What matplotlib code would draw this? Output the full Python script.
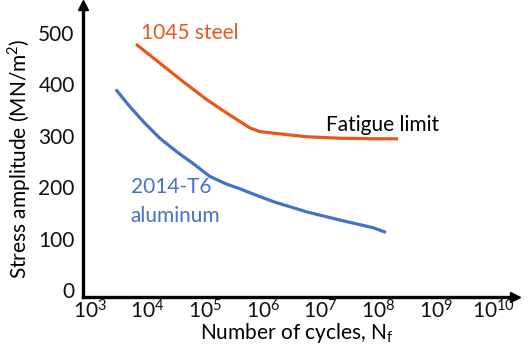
import numpy as np
import matplotlib.pyplot as plt

plt.rcParams['font.family'] = ['Lato', 'DejaVu Sans']
plt.rcParams['mathtext.fontset'] = 'custom'
plt.rcParams['mathtext.rm'] = 'Lato'

# values (log10 of cycles, stress in MN/m2)
steel_logn = [3.80, 4.215, 4.62, 5.03, 5.43, 5.78, 5.95, 6.18, 6.76, 7.34, 7.92, 8.35]
steel_s = [478, 441, 405, 370, 340, 315, 308, 305, 298, 295, 294, 294]
alu_logn = [3.45, 3.69, 3.93, 4.215, 4.505, 4.79, 5.08, 5.37, 5.60, 5.78, 6.18, 6.76,
            7.34, 7.92, 8.14]
alu_s = [390, 357, 327, 295, 269, 246, 221, 206, 197, 189, 172, 152, 136, 121, 112]
x_exp = [3, 4, 5, 6, 7, 8, 9, 10]
y_ticks = [0, 100, 200, 300, 400, 500]

orange = '#E8571C'
blue = '#4472C4'
fs = 15

fig = plt.figure(figsize=(5.32, 3.6), dpi=100)
ax = fig.add_axes([0.156, 0.175, 0.812, 0.811])

ax.plot(10.0 ** np.array(steel_logn), steel_s, color=orange, lw=2.3,
        solid_capstyle='butt', solid_joinstyle='round')
ax.plot(10.0 ** np.array(alu_logn), alu_s, color=blue, lw=2.3,
        solid_capstyle='butt', solid_joinstyle='round')

ax.set_xscale('log')
ax.set_xlim(10 ** 2.88, 10 ** 10.38)
ax.set_ylim(-13.6, 554)
ax.set_xticks([10.0 ** e for e in x_exp])
ax.set_xticklabels([r'$\mathregular{10^{%d}}$' % e for e in x_exp])
ax.minorticks_off()
ax.set_yticks(y_ticks)
ax.tick_params(length=0, labelsize=fs, colors='#111111')
ax.tick_params(axis='x', pad=2)
ax.tick_params(axis='y', pad=6)

for s in ['top', 'right']:
    ax.spines[s].set_visible(False)
for s in ['left', 'bottom']:
    ax.spines[s].set_linewidth(2.4)
    ax.spines[s].set_color('black')
ax.plot(1, 0, '>k', ms=7, transform=ax.transAxes, clip_on=False)
ax.plot(0, 1, '^k', ms=7, transform=ax.transAxes, clip_on=False)

ax.text(10 ** 3.885, 500, '1045 steel', color=orange, fontsize=fs, va='center')
ax.text(10 ** 7.1, 321, 'Fatigue limit', color='black', fontsize=fs, va='center')
ax.text(10 ** 3.71, 200, '2014-T6', color=blue, fontsize=fs, va='center')
ax.text(10 ** 3.71, 144, 'aluminum', color=blue, fontsize=fs, va='center')

fig.text(0.558, 0.058, r'Number of cycles, N$_\mathregular{f}$', fontsize=fs,
         ha='center', va='baseline')
fig.text(0.036, 0.56, r'Stress amplitude (MN/m$^\mathregular{2}$)', fontsize=fs,
         ha='center', va='center', rotation=90)

fig.savefig('out.png', dpi=100)
